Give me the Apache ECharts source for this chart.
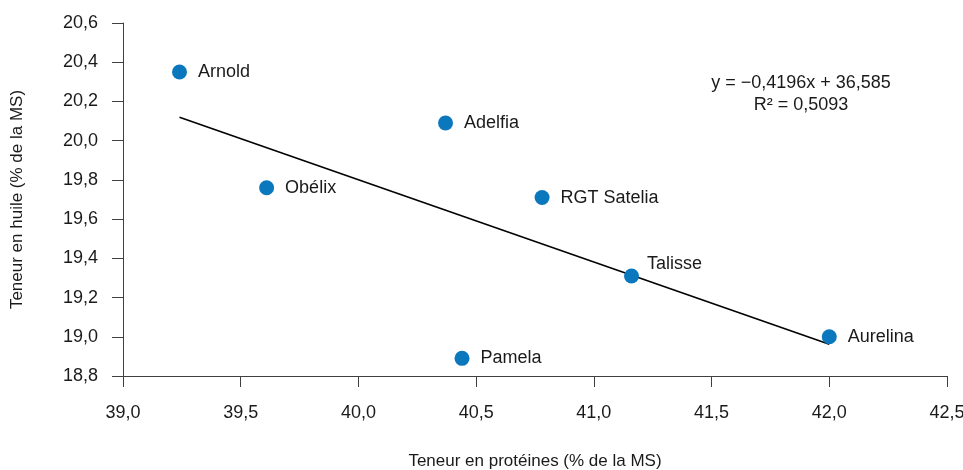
<!DOCTYPE html>
<html>
<head>
<meta charset="utf-8">
<script src="https://cdn.jsdelivr.net/npm/echarts@6/dist/echarts.min.js"></script>
<style>
html,body{margin:0;padding:0;background:#fff;}
#chart{width:963px;height:470px;}
</style>
</head>
<body>
<div id="chart"></div>
<script>
// Data
const varieties = ['Arnold', 'Obélix', 'Adelfia', 'Pamela', 'RGT Satelia', 'Talisse', 'Aurelina'];
const protein = [39.24, 39.61, 40.37, 40.44, 40.78, 41.16, 42.00];
const oil = [20.35, 19.76, 20.09, 18.89, 19.71, 19.31, 19.00];
const trendSlope = -0.4196;
const trendIntercept = 36.585;
const equationLines = ['y = \u22120,4196x + 36,585', 'R\u00b2 = 0,5093'];
const xAxisTitle = 'Teneur en protéines (% de la MS)';
const yAxisTitle = 'Teneur en huile (% de la MS)';

const FONT = '"Liberation Sans", Arial, sans-serif';
const TXT = '#1a1a1a';
const AX = '#404040';
const fmt = v => v.toFixed(1).replace('.', ',');

const xMinData = Math.min(...protein);
const xMaxData = Math.max(...protein);
const trendData = [
  [xMinData, trendSlope * xMinData + trendIntercept],
  [xMaxData, trendSlope * xMaxData + trendIntercept]
];

const pts = varieties.map((n, i) => {
  const d = { name: n, value: [protein[i], oil[i]] };
  if (n === 'Talisse') d.label = { offset: [-3, -12] };
  return d;
});

const chart = echarts.init(document.getElementById('chart'));
chart.setOption({
  animation: false,
  textStyle: { fontFamily: FONT },
  grid: { left: 123, right: 16, top: 23, bottom: 94, outerBoundsMode: 'none', containLabel: false },
  xAxis: {
    type: 'value', min: 39, max: 42.5, interval: 0.5,
    name: xAxisTitle, nameLocation: 'middle', nameGap: 77,
    nameTextStyle: { fontSize: 17, color: TXT, fontFamily: FONT },
    axisLine: { show: true, lineStyle: { color: AX, width: 1 } },
    axisTick: { show: true, length: 11, lineStyle: { color: AX } },
    axisLabel: { formatter: fmt, fontSize: 18, color: TXT, margin: 28, fontFamily: FONT },
    splitLine: { show: false }
  },
  yAxis: {
    type: 'value', min: 18.8, max: 20.6, interval: 0.2,
    name: yAxisTitle, nameLocation: 'middle', nameGap: 97, nameRotate: 90,
    nameTextStyle: { fontSize: 17, color: TXT, fontFamily: FONT },
    axisLine: { show: true, lineStyle: { color: AX, width: 1 } },
    axisTick: { show: true, length: 11, lineStyle: { color: AX } },
    axisLabel: { formatter: fmt, fontSize: 18, color: TXT, margin: 25, fontFamily: FONT },
    splitLine: { show: false }
  },
  series: [
    {
      type: 'line',
      data: trendData,
      symbol: 'none',
      lineStyle: { color: '#000', width: 1.6 },
      silent: true,
      z: 1
    },
    {
      type: 'scatter',
      data: pts,
      symbolSize: 15,
      itemStyle: { color: '#0b77bd', opacity: 1 },
      label: {
        show: true, position: 'right', distance: 11,
        formatter: p => p.name,
        fontSize: 18, color: TXT, fontFamily: FONT
      },
      z: 3
    }
  ],
  graphic: [
    {
      type: 'text', x: 801, y: 83,
      style: { text: equationLines[0], fill: TXT, font: '18px ' + FONT, align: 'center', verticalAlign: 'middle' }
    },
    {
      type: 'text', x: 801, y: 105,
      style: { text: equationLines[1], fill: TXT, font: '18px ' + FONT, align: 'center', verticalAlign: 'middle' }
    }
  ]
});
</script>
</body>
</html>
